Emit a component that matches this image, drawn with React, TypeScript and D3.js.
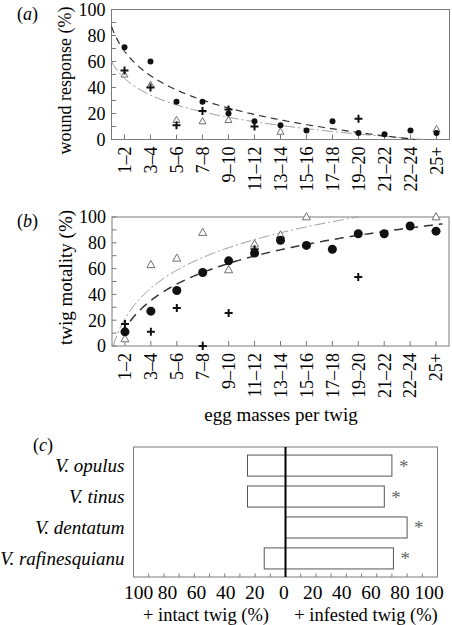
import React from 'react';
import * as d3 from 'd3';

// ---------- data ----------
const categories = ['1–2', '3–4', '5–6', '7–8', '9–10', '11–12', '13–14', '15–16', '17–18', '19–20', '21–22', '22–24', '25+'];

// panel (a) wound response (%)
const woundCircles = [71, 60, 29, 29, 20, 14, 11, 7, 14, 5, 4, 7, 5];
const woundCrosses = [53, 40, 11, 22, 23, 10, null, null, null, 16, null, null, null];
const woundTriangles = [50, 42, 15, 14, 15, null, 6, null, null, null, null, null, 8];
// fitted log curves: [intercept, slope, fromIndex, toIndex]
const woundFitDashed = [68, -27.2, 0.5, 12.18];
const woundFitDotDash = [47.1, -18.64, 0.5, 12.5];

// panel (b) twig mortality (%)
const mortalityCircles = [11, 27, 43, 57, 66, 72, 82, 78, 75, 87, 87, 93, 89];
const mortalityCrosses = [17, 11, 29.5, 0, 25.5, 75, null, null, null, 53.5, null, null, null];
const mortalityTriangles = [5.5, 63, 68, 88, 59, 79, 86, 100, null, null, null, null, 100];
const mortalityFitDashed = [13.5, 31.4, 1.2, 13.25];
const mortalityFitDotDash = [21.1, 34.26, 0.54, 10];

const yTicks = [0, 20, 40, 60, 80, 100];
const yMinorTicks = [10, 30, 50, 70, 90];

// panel (c)
const species = ['V. opulus', 'V. tinus', 'V. dentatum', 'V. rafinesquianu'];
const intactTwig = [25, 25, 0, 14];
const infestedTwig = [70, 65, 80, 71];
const significance = ['*', '*', '*', '*'];
const cTicks = [-100, -80, -60, -40, -20, 0, 20, 40, 60, 80, 100];
const cMinorTicks = [-90, -70, -50, -30, -10, 10, 30, 50, 70, 90];

const FONT = '"Liberation Serif", "Times New Roman", serif';
const FRAME = '#7a7a7a';

type PanelProps = {
  box: { left: number; right: number; top: number; bottom: number };
  circles: (number | null)[];
  crosses: (number | null)[];
  triangles: (number | null)[];
  fitDashed: number[];
  fitDotDash: number[];
  circleR: number;
  crossS: number;
  triS: number;
  dashW: number;
  dashArr: string;
  yTitle: string;
  yTitleSize: number;
  yTitleY: number;
  letter: string;
};

function Panel(p: PanelProps) {
  const { box } = p;
  const x = d3.scalePoint<string>().domain(categories).range([box.left, box.right]).padding(0.5);
  const y = d3.scaleLinear().domain([0, 100]).range([box.bottom, box.top]);
  const xi = d3.scaleLinear().domain([1, categories.length]).range([x(categories[0])!, x(categories[categories.length - 1])!]);

  const curve = (f: number[]) => {
    const pts = d3.range(0, 201).map((k) => f[2] + ((f[3] - f[2]) * k) / 200);
    return d3
      .line<number>()
      .x((i) => xi(i))
      .y((i) => y(Math.max(0, Math.min(100, f[0] + f[1] * Math.log(i)))))(pts) as string;
  };

  const tri = (cx: number, cy: number, s: number) => {
    const h = s * 0.9;
    return `M${cx},${cy - h * 0.6}L${cx + s / 2},${cy + h * 0.4}L${cx - s / 2},${cy + h * 0.4}Z`;
  };

  return (
    <g>
      {/* frame */}
      <rect x={box.left} y={box.top} width={box.right - box.left} height={box.bottom - box.top} fill="none" stroke={FRAME} strokeWidth={1} />
      {/* y ticks */}
      {yTicks.concat(yMinorTicks).map((t) => (
        <line key={'yt' + t} x1={box.left} x2={box.left + 4.5} y1={y(t)} y2={y(t)} stroke={FRAME} />
      ))}
      {yTicks.map((t) => (
        <text key={'yl' + t} x={box.left - 6} y={y(t)} dy="0.35em" textAnchor="end" fontSize={18} fontFamily={FONT}>
          {t}
        </text>
      ))}
      {/* x ticks and labels */}
      {categories.map((c) => (
        <g key={'x' + c}>
          <line x1={x(c)} x2={x(c)} y1={box.bottom} y2={box.bottom - 5} stroke={FRAME} />
          <text
            transform={`translate(${x(c)},${box.bottom + 7}) rotate(-90)`}
            textAnchor="end"
            dy="0.35em"
            fontSize={18}
            fontFamily={FONT}
          >
            {c}
          </text>
        </g>
      ))}
      {/* fit lines */}
      <path d={curve(p.fitDotDash)} fill="none" stroke="#9a9a9a" strokeWidth={1} strokeDasharray="11,3,2,3" />
      <path d={curve(p.fitDashed)} fill="none" stroke="#333" strokeWidth={p.dashW} strokeDasharray={p.dashArr} />
      {/* triangles */}
      {p.triangles.map((v, i) =>
        v == null ? null : (
          <path key={'t' + i} d={tri(x(categories[i])!, y(v), p.triS)} fill="white" stroke="#707070" strokeWidth={1} />
        )
      )}
      {/* crosses */}
      {p.crosses.map((v, i) => {
        if (v == null) return null;
        const cx = x(categories[i])!;
        const cy = y(v);
        const s = p.crossS / 2;
        return (
          <path key={'c' + i} d={`M${cx - s},${cy}H${cx + s}M${cx},${cy - s}V${cy + s}`} stroke="#111" strokeWidth={2} fill="none" />
        );
      })}
      {/* circles */}
      {p.circles.map((v, i) =>
        v == null ? null : <circle key={'o' + i} cx={x(categories[i])} cy={y(v)} r={p.circleR} fill="#111" />
      )}
      {/* y title */}
      <text
        transform={`translate(65,${p.yTitleY}) rotate(-90)`}
        textAnchor="middle"
        dy="0.35em"
        fontSize={p.yTitleSize}
        fontFamily={FONT}
      >
        {p.yTitle}
      </text>
      {/* panel letter */}
      <text x={17} y={box.top + 10} fontSize={18} fontFamily={FONT}>
        (<tspan fontStyle="italic">{p.letter}</tspan>)
      </text>
    </g>
  );
}

function PanelC() {
  const box = { left: 133.5, right: 437.5, top: 447, bottom: 577 };
  const x = d3.scaleLinear().domain([-100, 100]).range([box.left, box.right]);
  const xLabel = d3.scaleLinear().domain([-100, 100]).range([138.5, 429]);
  const y = d3.scaleBand<string>().domain(species).range([box.top, box.bottom]).paddingInner(0.32).paddingOuter(0.26);
  const bw = y.bandwidth();
  return (
    <g>
      <rect x={box.left} y={box.top} width={box.right - box.left} height={box.bottom - box.top} fill="none" stroke={FRAME} />
      {cTicks.concat(cMinorTicks).map((t) => (
        <line key={'ct' + t} x1={x(t)} x2={x(t)} y1={box.bottom} y2={box.bottom - 3.5} stroke={FRAME} />
      ))}
      {cTicks.map((t) => (
        <text key={'cl' + t} x={xLabel(t)} y={599} textAnchor="middle" fontSize={19.5} fontFamily={FONT}>
          {Math.abs(t)}
        </text>
      ))}
      {species.map((s, i) => {
        const top = y(s)!;
        return (
          <g key={s}>
            {intactTwig[i] > 0 && (
              <rect x={x(-intactTwig[i])} y={top} width={x(0) - x(-intactTwig[i])} height={bw} fill="white" stroke="#555" />
            )}
            <rect x={x(0)} y={top} width={x(infestedTwig[i]) - x(0)} height={bw} fill="white" stroke="#555" />
            <text x={x(infestedTwig[i]) + 7} y={top + bw / 2 + 7} fontSize={19} fill="#666" fontFamily={FONT}>
              {significance[i]}
            </text>
            <text x={124.5} y={top + bw / 2} dy="0.33em" textAnchor="end" fontSize={19} fontStyle="italic" fontFamily={FONT}>
              {s}
            </text>
          </g>
        );
      })}
      <line x1={x(0)} x2={x(0)} y1={box.top} y2={box.bottom} stroke="#000" strokeWidth={2} />
      <text x={206} y={621} textAnchor="middle" fontSize={18.5} fontFamily={FONT}>
        + intact twig (%)
      </text>
      <text x={366} y={621} textAnchor="middle" fontSize={18.5} fontFamily={FONT}>
        + infested twig (%)
      </text>
      <text x={33} y={451} fontSize={18} fontFamily={FONT}>
        (<tspan fontStyle="italic">c</tspan>)
      </text>
    </g>
  );
}

export default function App() {
  return (
    <svg
      width={452}
      height={625}
      viewBox="0 0 452 625"
      style={{ position: 'absolute', left: 0, top: 0, background: 'white' }}
    >
      <rect x={0} y={0} width={452} height={625} fill="white" />
      <Panel
        box={{ left: 111.5, right: 449.5, top: 9.5, bottom: 139.5 }}
        circles={woundCircles}
        crosses={woundCrosses}
        triangles={woundTriangles}
        fitDashed={woundFitDashed}
        fitDotDash={woundFitDotDash}
        circleR={3}
        crossS={8}
        triS={7}
        dashW={1.2}
        dashArr="7,5"
        yTitle="wound response (%)"
        yTitleSize={18}
        yTitleY={80.5}
        letter="a"
      />
      <Panel
        box={{ left: 112, right: 449, top: 217, bottom: 346 }}
        circles={mortalityCircles}
        crosses={mortalityCrosses}
        triangles={mortalityTriangles}
        fitDashed={mortalityFitDashed}
        fitDotDash={mortalityFitDotDash}
        circleR={4.5}
        crossS={8}
        triS={8}
        dashW={1.5}
        dashArr="9,6"
        yTitle="twig motality (%)"
        yTitleSize={19}
        yTitleY={277.5}
        letter="b"
      />
      <text x={281} y={421} textAnchor="middle" fontSize={19} fontFamily={FONT}>
        egg masses per twig
      </text>
      <PanelC />
    </svg>
  );
}
